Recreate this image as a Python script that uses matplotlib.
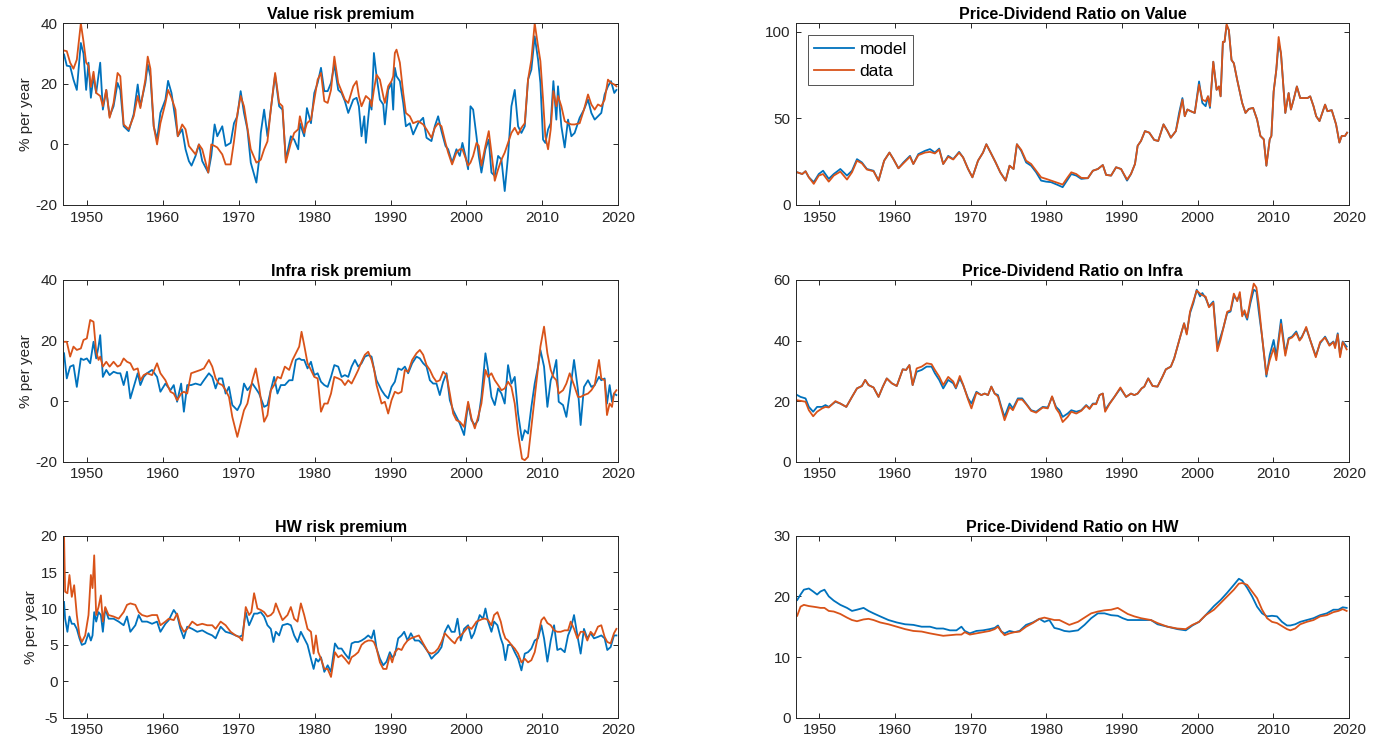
import matplotlib
matplotlib.use("Agg")
import matplotlib.pyplot as plt

plt.rcParams['font.family'] = ['Liberation Sans', 'DejaVu Sans']
plt.rcParams['axes.unicode_minus'] = False

BLUE = '#0072BD'
ORANGE = '#D95319'

# ---------------- Value risk premium ----------------
t_vrp = [1947.0, 1947.36, 1947.80, 1948.24, 1948.68, 1949.21, 1949.56, 1949.91, 1950.22, 1950.53,
         1950.88, 1951.23, 1951.76, 1952.11, 1952.56, 1953.00, 1953.52, 1954.05, 1954.41, 1954.85,
         1955.51, 1956.17, 1956.70, 1957.05, 1957.71, 1958.02, 1958.37, 1958.81, 1959.25, 1959.69,
         1960.35, 1960.70, 1961.15, 1961.67, 1961.98, 1962.56, 1963.00, 1963.44, 1963.79, 1964.32,
         1964.76, 1965.20, 1965.99, 1966.39, 1966.83, 1967.18, 1967.84, 1968.28, 1968.94, 1969.38,
         1969.82, 1970.26, 1970.70, 1971.15, 1971.59, 1972.33, 1972.69, 1972.91, 1973.35, 1973.79,
         1974.23, 1974.80, 1975.33, 1975.77, 1976.21, 1976.87, 1977.31, 1977.84, 1978.06, 1978.63,
         1978.99, 1979.52, 1979.96, 1980.40, 1980.84, 1981.28, 1981.72, 1982.16, 1982.60,
         1983.11, 1983.55, 1983.99, 1984.43, 1985.09, 1985.53, 1985.83, 1986.18, 1986.54, 1986.75,
         1987.28, 1987.50, 1987.81, 1988.16, 1988.60, 1989.04, 1989.25, 1989.69, 1990.13, 1990.35,
         1990.57, 1990.79, 1991.23, 1991.67, 1992.02, 1992.54, 1992.98, 1993.64, 1994.30, 1994.74,
         1995.39, 1995.83, 1996.27, 1996.71, 1997.24, 1997.59, 1998.11, 1998.68, 1999.12, 1999.47,
         1999.87, 2000.22, 2000.53, 2000.88, 2001.32, 2001.62, 2001.97, 2002.50, 2002.94, 2003.29,
         2003.73, 2004.17, 2004.61, 2005.04, 2005.48, 2005.92, 2006.36, 2006.80, 2007.24, 2007.68,
         2008.11, 2008.55, 2008.99, 2009.43, 2009.74, 2010.09, 2010.39, 2010.75, 2011.10, 2011.45,
         2011.84, 2012.06, 2012.50, 2012.94, 2013.38, 2013.82, 2014.25, 2014.91, 2015.48, 2016.01,
         2016.45, 2016.89, 2017.32, 2017.76, 2018.20, 2018.64, 2019.04, 2019.47, 2019.75]
vrp_model = [29.7, 26, 25.8, 21.4, 18, 33.5, 30, 18, 27, 15.4,
             22.5, 17, 27, 11.5, 18, 9.3, 12.6, 20.3, 18, 6,
             4.4, 10, 19.8, 12.6, 20.3, 26.4, 22.5, 6, 1.6, 10.4,
             14.8, 21, 17, 8.2, 2.7, 5, -1.6, -5.5, -7, -3.8,
             0, -5.5, -9.3, -3.8, 6.6, 2.7, 6, -0.5, 0.5, 7,
             9.3, 17.6, 10.4, 5, -6, -12.6, -5, 3.8, 11.5, 2.7,
             11.5, 23, 12.6, 11.5, -5, 2.7, 1.6, -1.6, 7, 2.7,
             12, 7, 17, 20.3, 25.3, 17.6, 17.6, 20.3, 26.4,
             18, 17, 14.3, 10.4, 14.8, 15.4, 12.6, 2.7, 9.3, 0.5,
             14.3, 11.5, 30.2, 22.5, 14.8, 13.2, 6.6, 18, 20.3, 11.5,
             25.3, 22.5, 20.9, 13.7, 6, 7, 3.3, 7, 8.8, 2.2,
             1.1, 6, 9.3, 4.4, -0.5, -1.6, -6, -1.6, -3.8, 0.5,
             -3.8, -8.2, 12.6, 11.5, 2.7, -3.8, -9.3, -1.6, 1.6, -9.3,
             -10.4, -3.8, -5, -15.4, -3.8, 12.6, 18, 6, 3.8, 6,
             21.4, 24.7, 35.7, 28, 20.3, 1.6, 0.5, 5, 7, 20.9,
             8.2, 19.2, 6, -1, 8.2, 2.7, 3.8, 8.8, 11.5, 14.8,
             10.4, 8.2, 9.3, 10.4, 16.5, 19.2, 20.9, 17, 18]
vrp_data = [31, 30.8, 27, 25, 28, 40, 34, 27, 26, 19,
            24, 17, 16, 12.6, 18, 8.8, 13.7, 23.6, 22.5, 6.6,
            5, 9.3, 16, 12, 21.4, 29, 25, 6, 0, 7,
            13.7, 18, 15.4, 11.5, 2.7, 6.6, 5, -0.5, -1.6, -3.3,
            0, -1.6, -9.3, 0, -0.5, -1, -3.3, -6.6, -6.6, 1,
            10, 16, 12.6, 5.5, -1.6, -6, -5.5, -5, -1.6, 1,
            11.5, 23.6, 13.7, 12.6, -6, 0.5, 3.8, 5, 9.3, 3.8,
            7, 8.2, 14.8, 21.4, 23.6, 14.3, 13.7, 18, 29,
            20.3, 17.6, 14.8, 13.7, 19.2, 20.9, 16, 12.6, 14.8, 16,
            14.8, 12.6, 18, 23, 21.4, 16, 13.7, 19.2, 20.9, 22.5,
            30.2, 31.3, 27, 17, 10.4, 9.3, 7, 7.7, 6.6, 5,
            2.2, 5.5, 7, 6, 0.5, -2.7, -6.6, -2.7, -1.6, -1.6,
            -4.4, -7, -6, -3.8, 0.5, -0.5, -7, -0.5, 4.4, -2.7,
            -12, -8.2, -5, -2.7, 0.5, 3.8, 5.5, 3.3, 5.5, 7,
            21.4, 28, 40, 32.4, 27.5, 14.8, 2.7, -1.6, 5, 17.6,
            12.6, 16, 12.6, 7.7, 7, 6.6, 6.6, 7, 11.5, 16.5,
            13.2, 11.5, 13.2, 12.6, 14.8, 21.4, 20.3, 19.8, 19.2]

# ---------------- Infra risk premium ----------------
t_irp = [1947.0, 1947.36, 1947.80, 1948.24, 1948.68, 1949.21, 1949.56, 1950.0, 1950.44, 1950.88,
         1951.23, 1951.54, 1951.76, 1952.11, 1952.56, 1953.00, 1953.52, 1954.05, 1954.41, 1954.85,
         1955.29, 1955.73, 1956.17, 1956.70, 1957.05, 1957.49, 1957.93, 1958.59, 1959.25, 1959.69,
         1960.35, 1961.01, 1961.45, 1961.89, 1962.42, 1962.78, 1963.22, 1963.74, 1964.32, 1964.98,
         1965.42, 1966.08, 1966.52, 1966.96, 1967.40, 1967.84, 1968.28, 1968.72, 1969.16, 1969.82,
         1970.26, 1970.70, 1971.15, 1971.81, 1972.25, 1972.69, 1973.35, 1973.79, 1974.23, 1974.67,
         1975.11, 1975.55, 1976.08, 1976.65, 1977.09, 1977.53, 1977.97, 1978.28, 1978.63, 1979.07,
         1979.52, 1979.96, 1980.40, 1980.84, 1981.28, 1981.72, 1982.16, 1982.60,
         1983.11, 1983.55, 1983.99, 1984.43, 1984.87, 1985.31, 1985.75, 1986.18, 1986.62, 1987.06,
         1987.50, 1987.85, 1988.16, 1988.82, 1989.25, 1989.69, 1990.13, 1990.57, 1991.01, 1991.45,
         1991.89, 1992.32, 1992.85, 1993.42, 1993.86, 1994.30, 1994.74, 1995.18, 1995.61, 1996.05,
         1996.49, 1996.93, 1997.37, 1997.81, 1998.25, 1998.68, 1999.12, 1999.69, 2000.22, 2000.66,
         2001.10, 2001.54, 2001.97, 2002.50, 2002.85, 2003.29, 2003.73, 2004.17, 2004.61, 2005.04,
         2005.48, 2005.92, 2006.36, 2006.80, 2007.32, 2007.68, 2008.11, 2008.55, 2008.99, 2009.43,
         2009.74, 2010.22, 2010.66, 2011.10, 2011.45, 2011.84, 2012.15, 2012.72, 2013.16, 2013.60,
         2014.17, 2014.69, 2015.04, 2015.48, 2016.01, 2016.45, 2016.89, 2017.46, 2017.76, 2018.20,
         2018.51, 2018.86, 2019.17, 2019.43, 2019.75]
irp_model = [15.8, 7.5, 11.4, 11.9, 4.7, 14.1, 13.6, 14.1, 12.5, 19.6,
             14.1, 18, 21.8, 8, 10.3, 8.6, 9.7, 9.2, 9.2, 5.3,
             9.7, 0.9, 4.7, 9.2, 5.3, 8, 9.2, 10.3, 8, 3.1,
             5.8, 3.6, 5.3, -0.2, 5.8, -3.5, 5.3, 5.3, 5.8, 5.3,
             6.9, 9.2, 8, 4.2, 7.5, 7.5, 2.5, 4.7, -1.3, -3,
             -0.8, 5.8, 3.6, 5.8, 4.2, 2.5, -1.9, -1.3, 3.6, 8,
             2.5, 5.3, 5.3, 6.9, 6.9, 13.6, 14.1, 13.6, 13.6, 10.8,
             13, 8.6, 9.2, 6.4, 5.3, 4.7, 8, 11.9,
             11.4, 8, 8.6, 8, 11.4, 13.6, 11.4, 12.5, 14.7, 15.2,
             14.7, 10.3, 6.9, 3.6, 2, 0.9, 4.7, 6.4, 10.8, 10.3,
             11.4, 9.2, 12.5, 14.7, 14.1, 12.5, 11.4, 6.9, 5.8, 5.8,
             2, 6.4, 9.2, 0.3, -3, -5.2, -7.4, -11.2, -0.8, -6.3,
             -7.9, -6.3, 1.4, 15.8, 10.3, 1.4, -1.3, 4.2, 2.5, -0.8,
             11.9, 5.8, 8, -4.1, -12.9, -9.6, -10.7, -1.9, 5.8, 11.4,
             16.9, 11.4, -1.9, 6.9, 9.2, 13.6, -0.2, -1.3, -5.2, 2.5,
             13.6, 3.6, -7.9, 4.7, 6.9, 4.7, 5.3, 8, 6.9, 7.5,
             -0.8, 5.3, -0.2, 2.5, 2]
irp_data = [19.6, 19.6, 14.7, 18, 16.9, 17.4, 20.2, 20.7, 26.8, 26.2,
            16.3, 13.6, 14.7, 11.4, 13, 11.4, 13, 11.4, 11.9, 14.1,
            13, 12.5, 10.3, 10.8, 6.9, 8.6, 9.2, 8.6, 12.5, 9.2,
            6.9, 3.1, 2.5, 0.3, 2.5, 3.1, 2.5, 9.2, 9.7, 10.3,
            10.8, 13.6, 11.4, 7.5, 5.8, 5.3, 3.6, 1.4, -5.2, -11.8,
            -7.4, -3, -0.8, 6.9, 10.8, 4.7, -6.8, -4.6, 3.6, 5.3,
            8, 7.5, 11.4, 10.3, 13.6, 15.8, 18, 22.9, 18.5, 12.5,
            10.3, 8, 7.5, -3.5, -0.8, -0.8, 2.5, 8,
            7.5, 6.9, 5.3, 6.9, 5.8, 8, 10.3, 13, 15.3, 16.3,
            13.6, 10.3, 5.3, -0.8, -0.2, -4.1, 0.3, 3.1, 2.5, 3.1,
            10.3, 9.7, 13.6, 15.8, 16.9, 15.3, 11.9, 10.3, 8, 6.4,
            6.9, 9.7, 8.6, 2.5, -4.1, -6.3, -6.8, -8.5, -0.2, -5.7,
            -9, -5.2, -0.8, 10.3, 8, 9.2, 6.9, 5.3, 3.6, 4.2,
            6.4, 4.7, -0.8, -10.7, -19, -19.5, -18.4, -8.5, 1.4, 11.4,
            18, 24.6, 15.8, 10.3, 8, 6.9, 2.5, 3.6, 5.8, 9.2,
            5.3, 1.4, 1.4, 2, 2.5, 3.6, 5.3, 13.6, 7.5, 6.9,
            -4.6, -0.8, -1.9, 2.5, 3.6]

# ---------------- HW risk premium ----------------
t_hrp = [1947.0, 1947.14, 1947.44, 1947.71, 1948.02, 1948.33, 1948.68, 1949.03, 1949.34, 1949.78,
         1950.22, 1950.53, 1950.75, 1950.97, 1951.23, 1951.54, 1951.85, 1952.11, 1952.42, 1952.86,
         1953.52, 1954.19, 1954.85, 1955.29, 1955.73, 1956.39, 1956.83, 1957.27, 1957.93, 1958.59,
         1959.25, 1959.69, 1960.35, 1960.79, 1961.45, 1961.89, 1962.33, 1962.78, 1963.22, 1963.88,
         1964.54, 1965.20, 1965.86, 1966.52, 1966.96, 1967.62, 1968.28, 1968.94, 1969.60, 1970.04,
         1970.48, 1970.93, 1971.37, 1971.67, 1972.03, 1972.47, 1972.91, 1973.35, 1973.79, 1974.23,
         1974.58, 1974.89, 1975.33, 1975.77, 1976.43, 1976.87, 1977.31, 1977.75, 1978.19, 1978.63,
         1979.07, 1979.52, 1979.87, 1980.18, 1980.48, 1980.84, 1981.28, 1981.72, 1982.16,
         1982.68, 1983.11, 1983.55, 1983.99, 1984.52, 1984.87, 1985.31, 1985.75, 1986.18, 1986.62,
         1987.06, 1987.50, 1987.81, 1988.16, 1988.60, 1989.04, 1989.47, 1989.91, 1990.22, 1990.57,
         1991.01, 1991.45, 1991.80, 1992.24, 1992.68, 1993.20, 1993.73, 1994.30, 1994.96, 1995.39,
         1995.83, 1996.27, 1996.71, 1997.15, 1997.59, 1998.03, 1998.46, 1998.82, 1999.25, 1999.69,
         2000.22, 2000.66, 2001.01, 2001.32, 2001.75, 2002.19, 2002.50, 2002.85, 2003.29, 2003.64,
         2004.08, 2004.52, 2004.82, 2005.13, 2005.48, 2005.92, 2006.36, 2006.80, 2007.24, 2007.68,
         2008.11, 2008.55, 2008.99, 2009.43, 2009.87, 2010.22, 2010.66, 2011.10, 2011.54, 2011.97,
         2012.41, 2012.94, 2013.38, 2013.73, 2014.17, 2014.61, 2015.04, 2015.48, 2015.92, 2016.36,
         2016.80, 2017.32, 2017.76, 2018.20, 2018.55, 2018.99, 2019.43, 2019.75]
hrp_model = [10.9, 8.6, 6.8, 8.9, 7.9, 7.9, 7.2, 5.9, 5, 5.2,
             6.6, 5.6, 6.3, 9.5, 8.2, 9.5, 9.1, 6.8, 10, 8.6,
             8.6, 8.2, 7.7, 8.9, 6.8, 7.7, 9.1, 8.2, 8.2, 7.9,
             8.2, 6.8, 7.9, 8.4, 9.8, 9.1, 7.2, 5.9, 7.5, 7.2,
             6.8, 7, 6.6, 6.3, 5.9, 7.5, 6.8, 6.6, 6.3, 6.1,
             6.3, 9.5, 7.7, 8.4, 9.3, 9.3, 9.5, 8.9, 7.7, 7.2,
             5.4, 6.8, 6.3, 7.7, 7.9, 7.7, 6.3, 5.4, 6.8, 5.9,
             5, 3.1, 1.7, 3.1, 2.7, 3.3, 1.3, 2.2, 1.3,
             5.2, 4.5, 4.5, 3.8, 3.1, 5.2, 5.4, 5.4, 5.6, 5.9,
             6.3, 5.9, 7, 4.5, 3.1, 2.2, 2.7, 4, 3.3, 3.6,
             5.9, 6.3, 6.8, 5.6, 6.6, 5.6, 5.6, 5, 4, 3.1,
             3.6, 4, 4.7, 6.8, 7.7, 6.8, 6.8, 8.6, 5.6, 7.2,
             7.7, 5.9, 6.6, 7.7, 9.1, 8.6, 10, 8.2, 6.8, 8.2,
             7.7, 5.9, 5, 2.9, 5, 5, 4, 3.1, 1.5, 3.8,
             4, 4.5, 5.6, 5.9, 7.7, 5.9, 2.7, 5.6, 7.7, 4.3,
             4.5, 4, 6.3, 7.2, 9.1, 6.3, 3.8, 7.2, 5.9, 6.6,
             5.9, 6.1, 6.3, 5.9, 4.3, 4.7, 6.3, 6.3]
hrp_data = [19.9, 12.3, 12.1, 14.6, 11.6, 13.2, 9.1, 6.3, 5.4, 6.3,
            9.1, 14.6, 12.8, 17.3, 9.1, 10.2, 11.8, 8.2, 10.2, 9.1,
            8.9, 8.6, 9.5, 10.5, 10.7, 10.5, 9.5, 9.1, 8.9, 9.1,
            9.1, 7.7, 8.2, 8.6, 8.4, 9.3, 7.7, 6.8, 7.2, 8.2,
            7.7, 7.9, 7.7, 7.7, 7.2, 8.2, 7.7, 6.8, 6.3, 6.1,
            5.6, 10.2, 9.1, 9.5, 12.1, 10, 9.8, 9.5, 8.9, 9.1,
            9.5, 10.7, 9.5, 8.4, 9.1, 10.2, 8.6, 8.2, 10.7, 9.1,
            7.2, 6.8, 3.8, 6.3, 4, 3.1, 1.7, 1.7, 0.6,
            4, 3.3, 3.6, 3.1, 2.4, 3.3, 3.6, 4, 5, 5.4,
            5.6, 5.6, 5.4, 4.5, 2.6, 1.7, 1.7, 3.6, 2.6, 4,
            4.5, 4.3, 5, 5.6, 5.9, 6.1, 6.3, 5.2, 4, 3.8,
            4, 4.5, 5.4, 6.6, 6.1, 5.6, 5.2, 5.9, 6.3, 6.8,
            7.5, 7.2, 7.7, 8.2, 8.4, 8.6, 8.6, 8.4, 7.7, 9.1,
            9.5, 8.2, 6.8, 5.9, 5.6, 5, 4.5, 3.8, 2.6, 3.1,
            2.6, 2.9, 4, 6.3, 8.4, 8.8, 8, 7.7, 7, 6.8,
            6.8, 7, 7, 8.2, 7.2, 5.9, 6.8, 6.8, 5.6, 6.8,
            6.3, 7.5, 7.7, 6.1, 5.4, 5.2, 6.6, 7.2]

# ---------------- Price-Dividend Ratio on Value ----------------
t_pdv = [1947.06, 1947.72, 1948.16, 1948.60, 1949.25, 1949.91, 1950.48, 1951.23, 1951.89, 1952.76,
         1953.64, 1954.30, 1954.96, 1955.61, 1956.27, 1957.15, 1957.81, 1958.55, 1959.25, 1959.78,
         1960.44, 1961.10, 1961.97, 1962.41, 1963.07, 1963.95, 1964.61, 1965.26, 1965.83, 1966.36,
         1967.02, 1967.68, 1968.46, 1968.99, 1969.65, 1970.22, 1970.96, 1971.62, 1972.06, 1972.63,
         1973.29, 1973.90, 1974.61, 1975.13, 1975.66, 1976.10, 1976.67, 1977.32, 1977.98, 1978.64,
         1979.30, 1979.96, 1980.61, 1981.49, 1982.15, 1982.81,
         1983.29, 1983.95, 1984.61, 1985.48, 1986.14, 1986.80, 1987.46, 1987.89, 1988.55, 1989.21,
         1989.87, 1990.66, 1991.18, 1991.71, 1992.06, 1992.50, 1993.03, 1993.60, 1994.25, 1994.78,
         1995.48, 1996.01, 1996.45, 1997.11, 1997.54, 1997.98, 1998.29, 1998.64, 1999.08, 1999.61,
         2000.18, 2000.61, 2001.05, 2001.36, 2001.62, 2002.06, 2002.50, 2002.81, 2003.03, 2003.33,
         2003.55, 2003.82, 2004.12, 2004.47, 2004.78, 2005.22, 2005.88, 2006.32, 2006.75, 2007.32,
         2007.85, 2008.29, 2008.73, 2009.08, 2009.52, 2009.74, 2010.04, 2010.39, 2010.70, 2011.01,
         2011.58, 2012.02, 2012.32, 2012.68, 2013.11, 2013.55, 2013.99, 2014.52, 2014.87, 2015.31,
         2015.66, 2016.10, 2016.40, 2016.84, 2017.15, 2017.72, 2018.29, 2018.73, 2019.04, 2019.47,
         2019.75]
pdv_model = [18.9, 17.9, 19.5, 16, 13.2, 17.9, 19.8, 15.1, 17.9, 20.8,
             17, 19.8, 26.5, 24.6, 20.8, 19.8, 14.1, 25.6, 30.3, 26.5,
             21.2, 24.6, 28.4, 23.7, 29.4, 31.3, 32.3, 30.3, 32.6, 23.7,
             28.4, 26.5, 30.7, 27.5, 20.8, 16, 25.6, 30.3, 35.1, 30.3,
             24.6, 18.9, 14.1, 22.7, 20.8, 35.1, 31.3, 24.6, 22.7, 18.9,
             14.1, 13.5, 13.2, 11.6, 10.3, 14.7,
             17.9, 17, 15.1, 15.5, 19.8, 20.8, 23.1, 17.4, 17, 21.8,
             20.8, 14.1, 17.9, 23.7, 34.2, 37, 42.7, 41.8, 37.6, 37,
             46.6, 42.7, 38.9, 42.7, 53.2, 61.8, 51.3, 55.2, 54.2, 53.2,
             71.4, 59, 57.1, 62.8, 56.1, 82.8, 66.6, 68.5, 62.8, 94.3,
             94.3, 103.8, 101, 83.8, 81.9, 72.3, 59, 53.2, 55.5, 56.1,
             49.4, 39.9, 38, 22.7, 38, 39.9, 65.6, 78.1, 93.3, 87.6,
             53.2, 64.7, 55.2, 60.9, 68.5, 61.8, 61.8, 61.8, 62.8, 57.1,
             51.3, 48.5, 52.3, 58, 54.2, 54.8, 46.6, 36.1, 39.9, 39.9,
             41.8]
pdv_data = [18.9, 17.9, 19.5, 16, 12.2, 17, 17.9, 13.5, 17, 19.3,
            14.7, 18.9, 25.6, 24.1, 20.5, 19.5, 14.1, 25.6, 30.3, 26.5,
            21.2, 24.1, 27.9, 23.7, 28.8, 30.3, 30.7, 29.8, 32, 23.7,
            27.9, 26.3, 30.3, 27.5, 20.8, 16, 25.6, 30.3, 35.1, 30.3,
            24.6, 18.9, 14.1, 22.7, 20.8, 35.1, 31.9, 25.6, 23.7, 19.8,
            16, 15.1, 14.1, 12.8, 11.8, 16,
            18.9, 17.9, 15.7, 15.5, 19.8, 20.8, 23.1, 17.4, 17, 21.8,
            20.8, 14.7, 17.9, 23.7, 34.2, 37, 42.7, 41.8, 37.6, 37,
            46.6, 42.7, 38.9, 42.7, 51.3, 60.9, 51.3, 55.2, 54.2, 53.2,
            69.5, 60.9, 59.9, 62.8, 57.1, 82.8, 66.6, 68.5, 62.8, 94.3,
            94.3, 104.5, 101, 83.8, 81.9, 72.3, 59, 53.2, 55.5, 56.1,
            49.4, 39.9, 38, 22.7, 38, 39.9, 65.6, 78.1, 97.1, 87.6,
            53.2, 64.7, 55.2, 60.9, 68.5, 61.8, 61.8, 61.8, 62.8, 57.1,
            51.3, 48.5, 52.3, 58, 54.2, 54.8, 46.6, 36.1, 39.9, 39.9,
            41.8]

# ---------------- Price-Dividend Ratio on Infra ----------------
t_pdi = [1947.06, 1947.50, 1948.16, 1948.60, 1949.17, 1949.69, 1950.35, 1950.79, 1951.23, 1952.11,
         1952.76, 1953.55, 1954.30, 1954.96, 1955.61, 1956.05, 1956.49, 1957.15, 1957.81, 1958.38,
         1958.90, 1959.56, 1960.22, 1961.01, 1961.45, 1961.89, 1962.32, 1962.85, 1963.51, 1964.17,
         1964.82, 1965.26, 1965.83, 1966.36, 1967.02, 1967.68, 1968.03, 1968.55, 1968.99, 1969.65,
         1970.09, 1970.75, 1971.40, 1971.84, 1972.28, 1972.72, 1973.16, 1973.60, 1974.04, 1974.47,
         1975.13, 1975.57, 1976.23, 1976.80, 1977.32, 1977.98, 1978.64, 1979.52, 1980.18, 1980.75,
         1981.27, 1981.71, 1982.15, 1982.81,
         1983.29, 1983.95, 1984.61, 1985.26, 1985.70, 1986.14, 1986.58, 1987.02, 1987.46, 1987.76,
         1988.33, 1988.99, 1989.78, 1990.53, 1991.18, 1991.62, 1992.06, 1992.59, 1992.94, 1993.46,
         1994.04, 1994.69, 1995.35, 1995.79, 1996.45, 1996.89, 1997.32, 1997.76, 1998.20, 1998.55,
         1998.99, 1999.43, 1999.87, 2000.31, 2000.61, 2001.05, 2001.49, 2002.06, 2002.59, 2003.03,
         2003.38, 2003.90, 2004.34, 2004.78, 2005.22, 2005.57, 2005.88, 2006.18, 2006.54, 2006.97,
         2007.41, 2007.76, 2008.07, 2008.51, 2009.08, 2009.52, 2010.04, 2010.39, 2011.01, 2011.58,
         2012.02, 2012.46, 2013.03, 2013.46, 2013.77, 2014.34, 2014.87, 2015.61, 2016.18, 2016.84,
         2017.41, 2017.94, 2018.16, 2018.51, 2018.82, 2019.17, 2019.69]
pdi_model = [22, 21.4, 20.9, 18.1, 16.5, 18.1, 18.1, 18.7, 18.1, 19.8,
             19.2, 18.1, 21.4, 24.2, 25, 27, 25.3, 24.5, 21.4, 24.8,
             27.5, 25.9, 25, 30.5, 30.3, 31.9, 25.3, 29.7, 30.3, 31.4,
             31.4, 29.2, 27, 24.2, 27, 25.9, 24.2, 27.5, 25.3, 20.9,
             19.2, 23.1, 22, 22.5, 22, 24.8, 22.5, 22, 18.1, 14.8,
             19.2, 17.6, 20.9, 20.9, 19.2, 17, 16.5, 18.1, 17.9, 21.4,
             18.1, 17, 14.8, 15.9,
             17, 16.5, 17, 18.7, 17.6, 19.2, 19.2, 22, 22.5, 17,
             19.2, 21.4, 24.2, 21.4, 22.5, 22, 22.5, 24.2, 24.8, 27.5,
             25, 24.8, 28.1, 30.5, 31.4, 34.1, 38, 41.9, 45.7, 42.4,
             49.1, 52.4, 56.8, 54.6, 55.7, 54, 51.3, 52.9, 38, 41.3,
             44.1, 49.1, 49.6, 54.6, 53.5, 55.1, 48.5, 49.1, 46.9, 52.4,
             56.8, 56.2, 49.6, 41.3, 28.1, 35.2, 40.2, 34.7, 46.9, 35.8,
             40.8, 41.3, 43, 40.2, 41.3, 44.1, 40.2, 34.9, 39.1, 41.3,
             38.6, 39.7, 38, 42.4, 35.2, 39.7, 38]
pdi_data = [20.3, 20.1, 19.8, 17, 15, 16.5, 17.6, 18.1, 17.9, 20,
            19.2, 18.1, 21.4, 24.2, 25, 27, 25.3, 24.5, 21.4, 24.8,
            27.5, 25.9, 25, 30.5, 30.3, 31.9, 25.3, 30.8, 31.4, 32.5,
            32.2, 30.3, 28.1, 25.3, 28, 26.5, 24.5, 28.3, 25.5, 20.5,
            17.6, 22.8, 22, 22.5, 22, 24.8, 22.5, 21.5, 17.5, 13.7,
            18.1, 17, 20.5, 20.5, 19, 16.8, 16.2, 17.9, 17.6, 21.6,
            17.6, 16, 13.1, 14.8,
            16.5, 15.9, 16.8, 18.5, 17.4, 19, 19, 22, 22.5, 16.5,
            19, 21.4, 24.5, 21.4, 22.5, 22, 22.5, 24.2, 24.8, 27.5,
            25, 24.8, 28.1, 30.5, 31.4, 34.1, 38, 41.9, 45.7, 42,
            49.6, 53, 56.5, 55.5, 55, 54.5, 51, 52.5, 36.5, 40.3,
            44, 49.5, 50, 55.5, 53, 56, 48, 50, 47.5, 53.5,
            58.8, 57.5, 52, 41.3, 28.8, 33.5, 37.5, 33.5, 45.5, 35,
            40.5, 41, 42.5, 40, 41, 44.5, 40.2, 34.5, 39.5, 41,
            38.3, 39.5, 37.5, 42, 34.5, 39.5, 37.1]

# ---------------- Price-Dividend Ratio on HW ----------------
t_pdh = [1947.06, 1947.50, 1947.94, 1948.60, 1949.17, 1949.69, 1950.13, 1950.66, 1951.23, 1951.89,
         1952.76, 1953.64, 1954.30, 1954.96, 1955.83, 1956.49, 1957.15, 1958.03, 1959.12, 1960.22,
         1961.32, 1962.41, 1963.51, 1964.61, 1965.48, 1966.36, 1967.24, 1968.11, 1968.77, 1969.21,
         1969.87, 1970.75, 1971.62, 1972.50, 1973.16, 1973.60, 1974.04, 1974.47, 1975.13, 1975.79,
         1976.45, 1977.32, 1978.20, 1979.08, 1979.74, 1980.39, 1981.05, 1981.71, 1982.37, 1983.03,
         1984.17, 1985.04, 1985.92, 1986.80, 1987.68, 1988.55, 1989.43, 1990.09, 1990.75, 1991.62,
         1992.50, 1993.82, 1994.69, 1996.01, 1997.32, 1998.42, 1999.30, 2000.18, 2001.05, 2002.15,
         2003.03, 2003.90, 2004.78, 2005.44, 2005.88, 2006.54, 2007.19, 2007.85, 2008.51, 2009.17,
         2009.82, 2010.48, 2011.14, 2011.80, 2012.24, 2012.89, 2013.55, 2014.43, 2015.31, 2016.18,
         2017.06, 2017.94, 2018.60, 2019.17, 2019.69]
pdh_model = [19.4, 20.3, 21.1, 21.3, 20.8, 20.3, 20.8, 21.1, 20, 19.3,
             18.6, 18.1, 17.6, 17.8, 18.1, 17.6, 17.2, 16.7, 16.1, 15.7,
             15.4, 15.3, 15, 15, 14.7, 14.7, 14.4, 14.4, 15, 14.3,
             13.9, 14.3, 14.4, 14.6, 14.8, 15.2, 14.2, 13.9, 14.3, 14.1,
             14.3, 15.3, 15.7, 16.3, 15.8, 16.1, 14.8, 14.6, 14.3, 14.2,
             14.4, 15.3, 16.4, 17.2, 17.2, 16.9, 16.8, 16.4, 16.1, 16.1,
             16.1, 16.1, 15.4, 15, 14.6, 14.4, 15.2, 15.8, 16.9, 18.4,
             19.4, 20.6, 21.9, 22.9, 22.6, 21.4, 20, 18.3, 17.2, 16.7,
             16.8, 16.7, 15.8, 15.2, 15.2, 15.4, 15.8, 16.1, 16.4, 16.9,
             17.2, 17.8, 17.8, 18.2, 18.1]
pdh_data = [16.8, 18.3, 18.6, 18.4, 18.3, 18.2, 18.1, 18.1, 17.6, 17.5,
            17.1, 16.5, 16.1, 15.9, 16.2, 16.3, 16.1, 15.7, 15.4, 15,
            14.6, 14.3, 14.2, 13.9, 13.7, 13.5, 13.6, 13.7, 13.7, 14.1,
            13.7, 13.9, 14.1, 14.3, 14.6, 15, 14.2, 13.6, 13.9, 14.1,
            14.2, 15, 15.6, 16.3, 16.5, 16.3, 16.1, 16.1, 15.7, 15.3,
            15.8, 16.5, 17.2, 17.5, 17.7, 17.8, 18.1, 17.6, 17.1, 16.7,
            16.4, 16.1, 15.6, 15, 14.7, 14.6, 15.3, 15.8, 16.9, 17.8,
            18.9, 20, 21.1, 22.1, 22.2, 21.9, 20.8, 19.7, 17.8, 16.4,
            15.8, 15.6, 15.1, 14.6, 14.4, 14.7, 15.4, 15.8, 16.1, 16.7,
            16.9, 17.4, 17.6, 17.9, 17.6]

year_ticks = [1950, 1960, 1970, 1980, 1990, 2000, 2010, 2020]

W, H = 1398, 753
fig = plt.figure(figsize=(W / 100, H / 100), dpi=100)

def px_axes(x0, x1, y0, y1):
    return fig.add_axes([x0 / W, 1 - y1 / H, (x1 - x0) / W, (y1 - y0) / H])

LX = (63.3, 618.3)
RX = (796.0, 1349.0)
ROWS = [(23.3, 205.0), (280.0, 461.7), (535.7, 717.7)]

panels = [
    (LX, ROWS[0], 'Value risk premium', t_vrp, vrp_model, vrp_data, (-20, 40), [-20, 0, 20, 40], True),
    (RX, ROWS[0], 'Price-Dividend Ratio on Value', t_pdv, pdv_model, pdv_data, (0, 105), [0, 50, 100], False),
    (LX, ROWS[1], 'Infra risk premium', t_irp, irp_model, irp_data, (-20, 40), [-20, 0, 20, 40], True),
    (RX, ROWS[1], 'Price-Dividend Ratio on Infra', t_pdi, pdi_model, pdi_data, (0, 60), [0, 20, 40, 60], False),
    (LX, ROWS[2], 'HW risk premium', t_hrp, hrp_model, hrp_data, (-5, 20), [-5, 0, 5, 10, 15, 20], True),
    (RX, ROWS[2], 'Price-Dividend Ratio on HW', t_pdh, pdh_model, pdh_data, (0, 30), [0, 10, 20, 30], False),
]

for i, (xs, ys, title, t, m, d, ylim, yt, ylab) in enumerate(panels):
    ax = px_axes(xs[0], xs[1], ys[0], ys[1])
    ax.plot(t, m, color=BLUE, lw=1.3, label='model')
    ax.plot(t, d, color=ORANGE, lw=1.3, label='data')
    ax.set_xlim(1946.9, 2020.0)
    ax.set_ylim(*ylim)
    ax.set_xticks(year_ticks)
    ax.set_yticks(yt)
    ax.tick_params(direction='in', length=3.5, width=0.7, top=True, right=True,
                   labelsize=11, colors='#262626', pad=4)
    for s in ax.spines.values():
        s.set_linewidth(0.7)
        s.set_color('#262626')
    ax.set_title(title, fontsize=11.5, fontweight='bold', pad=3, color='black')
    if ylab:
        ax.set_ylabel('% per year', fontsize=11, color='#262626', labelpad=2)
    if i == 1:
        leg = ax.legend(loc='upper left', fontsize=12.5, frameon=True, fancybox=False,
                        edgecolor='#262626', handlelength=2.3, borderpad=0.35,
                        labelspacing=0.4, handletextpad=0.3, borderaxespad=0.7)
        leg.get_frame().set_linewidth(0.7)

fig.savefig('out.png', dpi=100)
